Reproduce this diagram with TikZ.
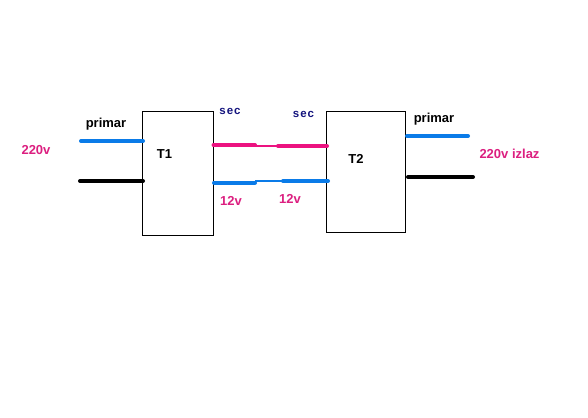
\documentclass[tikz,border=0pt]{standalone}
\usepackage{fontspec}
\setmainfont{Liberation Sans}
\definecolor{wblue}{HTML}{0A7BE8}
\definecolor{wpink}{HTML}{EC1280}
\definecolor{tpink}{HTML}{DC1F80}
\definecolor{tnavy}{HTML}{14147E}
\tikzset{
  box/.style={draw=black,line width=0.9pt,fill=white,inner sep=0pt,minimum width=#1},
  heavy/.style={line width=4pt,line cap=round},
  lighter/.style={line width=1.8pt},
  lbl/.style={font=\bfseries\fontsize{13}{15}\selectfont,inner sep=0pt,anchor=center},
  sectext/.style={lbl,text=tnavy,font=\addfontfeature{LetterSpace=8}\bfseries\fontsize{11.5}{13}\selectfont},
  volt/.style={lbl,text=tpink}
}
\begin{document}
\begin{tikzpicture}[x=1pt,y=-1pt]
\useasboundingbox (0,0) rectangle (588,417);
\fill[white] (0,0) rectangle (588,417);
\node[box=71pt,minimum height=123.5pt] (t1) at (177.5,173.2) {};
\node[box=79pt,minimum height=120.5pt] (t2) at (366,171.7) {};
\node[lbl] (t1l) at (164.5,154.5) {T1};
\node[lbl] (t2l) at (356,158.5) {T2};
\node[lbl] (p1) at (106,124.5) {primar};
\node[lbl] (p2) at (434,119.5) {primar};
\node[sectext] (s1) at (230,111) {sec};
\node[sectext] (s2) at (303.5,114) {sec};
\node[volt] (v1) at (36,150) {220v};
\node[volt] (v2) at (509.5,153.5) {220v izlaz};
\node[volt] (v3) at (231,200.5) {12v};
\node[volt] (v4) at (290,199) {12v};
\coordinate (a1) at (81,141);
\coordinate (a2) at (143,141);
\coordinate (b1) at (80,181);
\coordinate (b2) at (143,181);
\coordinate (c1) at (213.5,145);
\coordinate (c2) at (255,145);
\coordinate (c3) at (278,146);
\coordinate (c4) at (327,146);
\coordinate (d1) at (214,182.5);
\coordinate (d2) at (255,182.5);
\coordinate (d3) at (283,181);
\coordinate (d4) at (328,181);
\coordinate (e1) at (407,136);
\coordinate (e2) at (468,136);
\coordinate (f1) at (408,177);
\coordinate (f2) at (473,177);
\draw[heavy,wblue] (a1) -- (a2);
\draw[heavy,black] (b1) -- (b2);
\draw[lighter,wpink] (c2 |- c3) -- (c3);
\draw[heavy,wpink] (c1) -- (c2);
\draw[heavy,wpink] (c3) -- (c4);
\draw[lighter,wblue] (d2 |- d3) -- (d3);
\draw[heavy,wblue] (d1) -- (d2);
\draw[heavy,wblue] (d3) -- (d4);
\draw[heavy,wblue] (e1) -- (e2);
\draw[heavy,black] (f1) -- (f2);
\end{tikzpicture}
\end{document}
